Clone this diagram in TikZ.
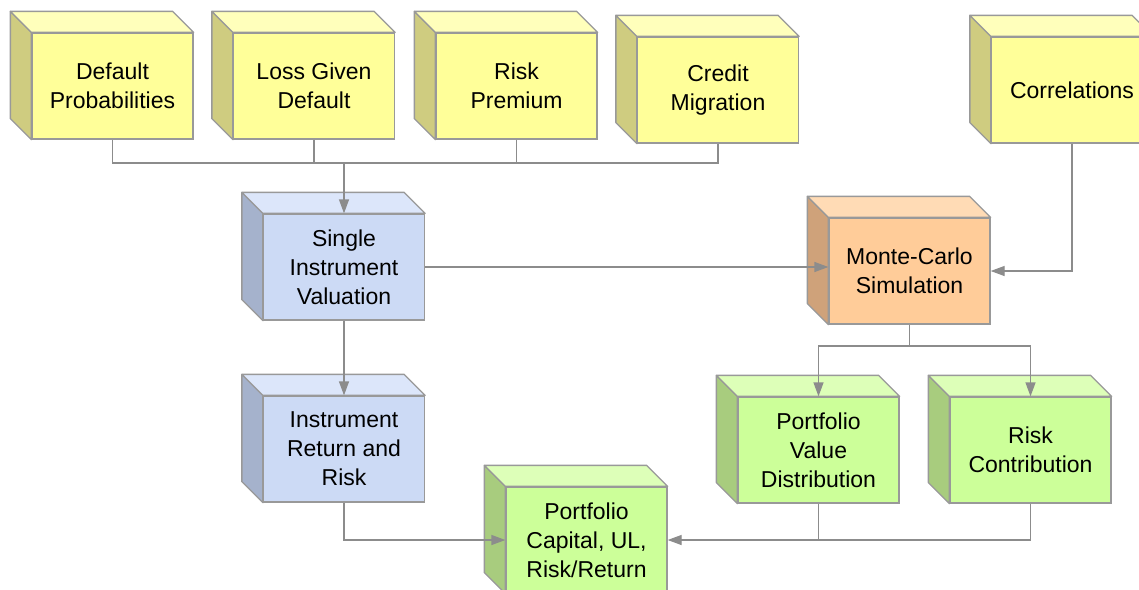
\documentclass[tikz,border=0pt]{standalone}
\usepackage{fontspec}
\setmainfont{Liberation Sans}
\usetikzlibrary{arrows.meta}
\definecolor{yfront}{HTML}{FFFF99}
\definecolor{yside}{HTML}{CFCC80}
\definecolor{ytop}{HTML}{FFFFBB}
\definecolor{bfront}{HTML}{CCDAF5}
\definecolor{bside}{HTML}{A5B2CC}
\definecolor{btop}{HTML}{DCE6FA}
\definecolor{ofront}{HTML}{FFCC99}
\definecolor{oside}{HTML}{CFA27A}
\definecolor{otop}{HTML}{FFDBB5}
\definecolor{gfront}{HTML}{CCFF99}
\definecolor{gside}{HTML}{A8CC7E}
\definecolor{gtop}{HTML}{DDFFB8}
\definecolor{edge}{HTML}{999999}
\definecolor{wire}{HTML}{8C8C8C}
\tikzset{
  facebox/.style={draw=edge, line width=1.3pt, rectangle, minimum width=161pt, minimum height=106pt,
    inner sep=0pt, align=center, font=\fontsize{23}{29}\selectfont},
  sideface/.style={draw=edge, line width=1.3pt, line join=round},
  wireline/.style={draw=wire, line width=1.3pt},
  arrowline/.style={wireline, -{Triangle[length=14pt,width=10pt]}, color=wire},
}
\newcommand\cubebox[5]{%
  \node[facebox, fill=#3front] (#1) at (#2) {#5};
  \filldraw[sideface, fill=#3side] (#1.north west) -- ([shift={(-21,-21)}]#1.north west)
     -- ([shift={(-21,-21)}]#1.south west) -- (#1.south west) -- cycle;
  \filldraw[sideface, fill=#3top] (#1.north west) -- ([shift={(-21,-21)}]#1.north west)
     -- ([shift={(-21,-21)}]#1.north east) -- (#1.north east) -- cycle;
}
\begin{document}
\begin{tikzpicture}[x=1pt, y=-1pt]
\useasboundingbox (0,0) rectangle (1139,589);
\clip (0,0) rectangle (1139,589);
\fill[white] (0,0) rectangle (1139,589);
\cubebox{dp}{112.5,86}{y}{}{Default\\Probabilities}
\cubebox{lgd}{314,86}{y}{}{Loss Given\\Default}
\cubebox{rp}{516.5,86}{y}{}{Risk\\Premium}
\cubebox{cm}{718,90}{y}{}{Credit\\Migration}
\cubebox{corr}{1072,90}{y}{}{Correlations}
\cubebox{siv}{344,267}{b}{}{Single\\Instrument\\Valuation}
\cubebox{mc}{909.5,271}{o}{}{Monte-Carlo\\Simulation}
\cubebox{irr}{344,449}{b}{}{Instrument\\Return and\\Risk}
\cubebox{pvd}{818.5,450}{g}{}{Portfolio\\Value\\Distribution}
\cubebox{rc}{1030.5,450}{g}{}{Risk\\Contribution}
\cubebox{pc}{586.5,540}{g}{}{Portfolio\\Capital, UL,\\Risk/Return}
\coordinate (bus) at (0,163);
\coordinate (mcbus) at (0,346);
\coordinate (pcbus) at (0,540);
% top bus
\draw[wireline] (dp.south) -- (dp.south |- bus) -| (cm.south);
\draw[wireline] (lgd.south) -- (lgd.south |- bus);
\draw[wireline] (rp.south) -- (rp.south |- bus);
\draw[arrowline] (siv.north |- bus) -- (siv.north);
% middle
\draw[arrowline] (siv.east) -- (siv.east -| mc.west);
\draw[arrowline] (corr.south) |- (mc.east);
\draw[arrowline] (siv.south) -- (irr.north);
\draw[wireline] (mc.south) -- (mc.south |- mcbus);
\draw[arrowline] (mc.south |- mcbus) -| (pvd.north);
\draw[arrowline] (mc.south |- mcbus) -| (rc.north);
% bottom
\draw[wireline] (pvd.south) -- (pvd.south |- pcbus) -| (rc.south);
\draw[arrowline] (pvd.south |- pcbus) -- (pc.east);
\draw[arrowline] (irr.south) |- (pc.west);
\end{tikzpicture}
\end{document}
